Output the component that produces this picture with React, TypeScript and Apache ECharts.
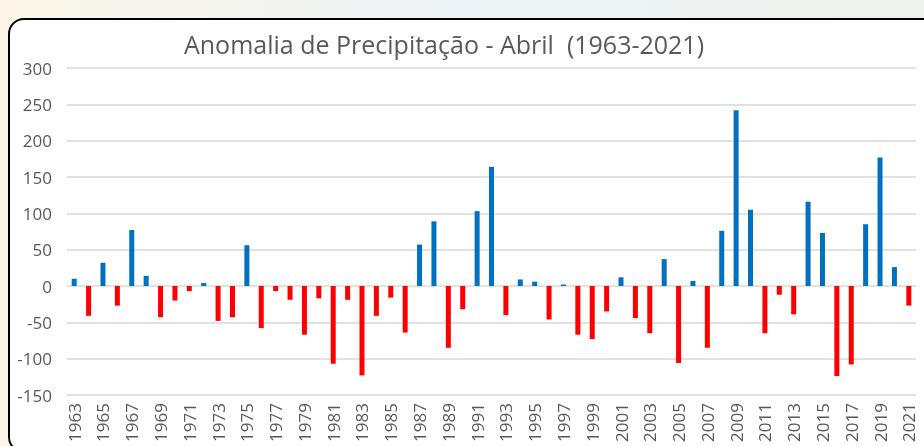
import React, { useEffect, useRef } from "react";
import * as echarts from "echarts";

const years: string[] = [];
for (let y = 1963; y <= 2021; y++) years.push(String(y));

const anomalies: number[] = [
  10, -41, 32, -27, 77, 14, -43, -20, -7, 4,
  -48, -43, 56, -58, -7, -19, -67, -17, -107, -19,
  -123, -41, -16, -64, 57, 89, -85, -32, 103, 164,
  -40, 9, 6, -46, 2, -67, -73, -35, 12, -44,
  -65, 37, -106, 7, -85, 76, 242, 105, -65, -12,
  -39, 116, 73, -124, -108, 85, 177, 26, -27,
];

const titleText = "Anomalia de Precipitação - Abril  (1963-2021)";
const yMin = -150;
const yMax = 300;
const yStep = 50;

export default function App() {
  const ref = useRef<HTMLDivElement>(null);
  useEffect(() => {
    if (!ref.current) return;
    const chart = echarts.init(ref.current, undefined, { renderer: "svg" });
    const font = "'Open Sans', 'Liberation Sans', sans-serif";
    chart.setOption({
      animation: false,
      graphic: [
        {
          type: "rect",
          z: -10,
          silent: true,
          shape: { x: 0, y: 0, width: 924, height: 446 },
          style: {
            fill: new echarts.graphic.LinearGradient(0, 0, 1, 0, [
              { offset: 0, color: "#fbf6e8" },
              { offset: 0.5, color: "#eef3f7" },
              { offset: 1, color: "#edf2ec" },
            ]),
          },
        },
        {
          type: "rect",
          z: -9,
          silent: true,
          shape: { x: 9, y: 19, width: 930, height: 433, r: 15 },
          style: { fill: "#ffffff", stroke: "#000000", lineWidth: 2 },
        },
        {
          type: "text",
          z: 10,
          x: 444,
          y: 44,
          style: {
            text: titleText,
            fill: "#595959",
            font: `25px ${font}`,
            align: "center",
            verticalAlign: "middle",
          },
        },
      ],
      grid: { left: 67, right: 8, top: 68, bottom: 51, containLabel: false },
      xAxis: {
        type: "category",
        data: years,
        boundaryGap: true,
        axisLine: { show: false, onZero: false },
        axisTick: { show: false },
        axisLabel: {
          interval: 1,
          rotate: 90,
          margin: 8,
          color: "#595959",
          fontSize: 17,
          fontFamily: font,
        },
      },
      yAxis: {
        type: "value",
        min: yMin,
        max: yMax,
        interval: yStep,
        axisLine: { show: false },
        axisTick: { show: false },
        axisLabel: { color: "#595959", fontSize: 17, fontFamily: font, margin: 15 },
        splitLine: { lineStyle: { color: "#d9d9d9", width: 1.5 } },
      },
      series: [
        {
          type: "bar",
          data: anomalies.map((v) => ({
            value: v,
            itemStyle: { color: v >= 0 ? "#0070c0" : "#ff0000" },
          })),
          barWidth: 5,
        },
      ],
    });
    return () => chart.dispose();
  }, []);
  return (
    <div
      ref={ref}
      style={{ position: "fixed", left: 0, top: 0, width: 924, height: 446 }}
    />
  );
}
